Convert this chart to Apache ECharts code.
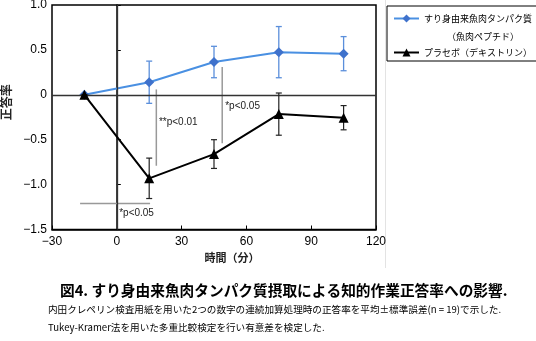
<!DOCTYPE html>
<html><head><meta charset="utf-8">
<script src="https://cdn.jsdelivr.net/npm/echarts@6/dist/echarts.min.js"></script>
<style>html,body{margin:0;padding:0;background:#fff}#c{width:536px;height:341px}</style>
</head><body><div id="c"></div>
<script>
const times = [-15, 15, 45, 75, 105];
const fishMean = [0, 0.14, 0.365, 0.475, 0.458];
const fishSE = [0, 0.235, 0.175, 0.285, 0.19];
const placeboMean = [0, -0.93, -0.66, -0.215, -0.255];
const placeboSE = [0, 0.225, 0.16, 0.235, 0.135];
const xTicks = [-30, 0, 30, 60, 90, 120];
const yTicks = [-1.5, -1.0, -0.5, 0, 0.5, 1.0];
const seriesNames = ['すり身由来魚肉タンパク質', 'プラセボ（デキストリン）'];
const legendSubLine = '（魚肉ペプチド）';
const sigLines = [[18.3, 0.06, 18.3, -0.79], [48.8, 0.31, 48.8, -0.54], [-17, -1.21, 15.4, -1.21]];
const sigTexts = [['**p<0.01', 19.5, -0.31], ['*p<0.05', 50.2, -0.125], ['*p<0.05', 1.1, -1.32]];
const titleText = '図4. すり身由来魚肉タンパク質摂取による知的作業正答率への影響.';
const noteLines = ['内田クレペリン検査用紙を用いた2つの数字の連続加算処理時の正答率を平均±標準誤差(n = 19)で示した.',
  'Tukey-Kramer法を用いた多重比較検定を行い有意差を検定した.'];

const jp = '"Noto Sans CJK JP", sans-serif';
const num = '"Liberation Sans", Arial, sans-serif';
const fmtX = v => (v < 0 ? '−' : '') + Math.abs(v);
const fmtY = v => v === 0 ? '0' : (v < 0 ? '−' : '') + Math.abs(v).toFixed(1);

function errData(m, s) { return times.map((t, i) => [t, m[i] - s[i], m[i] + s[i]]); }
function errSeries(data, color, width, z) {
  return {
    type: 'custom', silent: true, z: z, data: data,
    renderItem: (params, api) => {
      const p1 = api.coord([api.value(0), api.value(1)]);
      const p2 = api.coord([api.value(0), api.value(2)]);
      const w = 3;
      const st = { stroke: color, lineWidth: width };
      return { type: 'group', children: [
        { type: 'line', shape: { x1: p1[0], y1: p1[1], x2: p2[0], y2: p2[1] }, style: st },
        { type: 'line', shape: { x1: p1[0] - w, y1: p1[1], x2: p1[0] + w, y2: p1[1] }, style: st },
        { type: 'line', shape: { x1: p2[0] - w, y1: p2[1], x2: p2[0] + w, y2: p2[1] }, style: st }
      ]};
    }
  };
}

const chart = echarts.init(document.getElementById('c'));
chart.setOption({
  animation: false,
  grid: { left: 52, right: 160, top: 5, bottom: 111.5, containLabel: false, outerBoundsMode: 'none',
    show: true, borderColor: '#000', borderWidth: 1.5, backgroundColor: 'transparent' },
  xAxis: {
    type: 'value', min: -30, max: 120, interval: 30,
    name: '時間（分）', nameLocation: 'middle', nameGap: 23,
    nameTextStyle: { fontFamily: jp, fontSize: 11, fontWeight: 'bold', color: '#222', padding: [0, 0, 0, 36] },
    axisLine: { onZero: false, lineStyle: { color: '#000', width: 1.5 } },
    axisTick: { inside: true, length: 4, lineStyle: { color: '#000' } },
    axisLabel: { formatter: fmtX, fontFamily: num, fontSize: 12, color: '#000', margin: 6 },
    splitLine: { show: false }
  },
  yAxis: {
    type: 'value', min: -1.5, max: 1.0, interval: 0.5,
    name: '正答率', nameLocation: 'middle', nameGap: 29, nameRotate: 90,
    nameTextStyle: { fontFamily: jp, fontSize: 12, fontWeight: 'bold', color: '#222', padding: [0, 0, 0, 30] },
    axisLine: { lineStyle: { color: '#000', width: 1.5 } },
    axisTick: { inside: true, length: 4, lineStyle: { color: '#000' } },
    axisLabel: { formatter: fmtY, fontFamily: num, fontSize: 12, color: '#000', margin: 5 },
    splitLine: { show: false }
  },
  legend: {
    orient: 'vertical', left: 387, top: 6,
    data: seriesNames,
    itemWidth: 25, itemHeight: 10, itemGap: 25,
    padding: [8, 5, 4, 6],
    borderColor: '#000', borderWidth: 1,
    textStyle: { fontFamily: jp, fontSize: 9, color: '#000' }
  },
  graphic: [
    { type: 'text', left: 447, top: 32, style: { text: legendSubLine, font: '9px ' + jp, fill: '#000' } },
    { type: 'line', shape: { x1: 385.5, y1: 0, x2: 385.5, y2: 268 }, style: { stroke: '#e3e3e3', lineWidth: 1 } },
    { type: 'text', left: 60, top: 283, style: { text: titleText, font: 'bold 14.7px ' + jp, fill: '#000' } },
    { type: 'text', left: 48, top: 305, style: { text: noteLines[0], font: '9.6px ' + jp, fill: '#000' } },
    { type: 'text', left: 48, top: 323, style: { text: noteLines[1], font: '9.6px ' + jp, fill: '#000' } }
  ],
  series: [
    {
      type: 'custom', silent: true, z: 1, data: sigLines,
      renderItem: (params, api) => {
        const a = api.coord([api.value(0), api.value(1)]);
        const b = api.coord([api.value(2), api.value(3)]);
        return { type: 'line', shape: { x1: a[0], y1: a[1], x2: b[0], y2: b[1] }, style: { stroke: '#999', lineWidth: 1.5 } };
      }
    },
    {
      type: 'custom', silent: true, z: 1, data: sigTexts.map(d => [d[1], d[2]]),
      renderItem: (params, api) => {
        const a = api.coord([api.value(0), api.value(1)]);
        const t = sigTexts[params.dataIndex][0];
        return { type: 'text', x: a[0], y: a[1], style: { text: t, font: '10px ' + num, fill: '#222', textAlign: 'left', textVerticalAlign: 'middle' } };
      }
    },
    {
      type: 'line', silent: true, data: [], z: 1,
      markLine: { silent: true, symbol: 'none', animation: false, label: { show: false },
        data: [
          [{ coord: [0, -1.5] }, { coord: [0, 1.0] }],
          [{ coord: [-30, 0] }, { coord: [120, 0] }]
        ],
        lineStyle: { color: '#333', width: 1.3, type: 'solid' } }
    },
    errSeries(errData(fishMean, fishSE), '#5b8fdb', 1.3, 3),
    {
      name: seriesNames[0], type: 'line', z: 4,
      data: times.map((t, i) => [t, fishMean[i]]),
      symbol: 'diamond', symbolSize: 10,
      lineStyle: { color: '#4a90e2', width: 2 },
      itemStyle: { color: '#3f72cc' }
    },
    errSeries(errData(placeboMean, placeboSE), '#222', 1.2, 5),
    {
      name: seriesNames[1], type: 'line', z: 6,
      data: times.map((t, i) => [t, placeboMean[i]]),
      symbol: 'triangle', symbolSize: 10,
      lineStyle: { color: '#000', width: 2 },
      itemStyle: { color: '#000' }
    }
  ]
});
</script></body></html>
